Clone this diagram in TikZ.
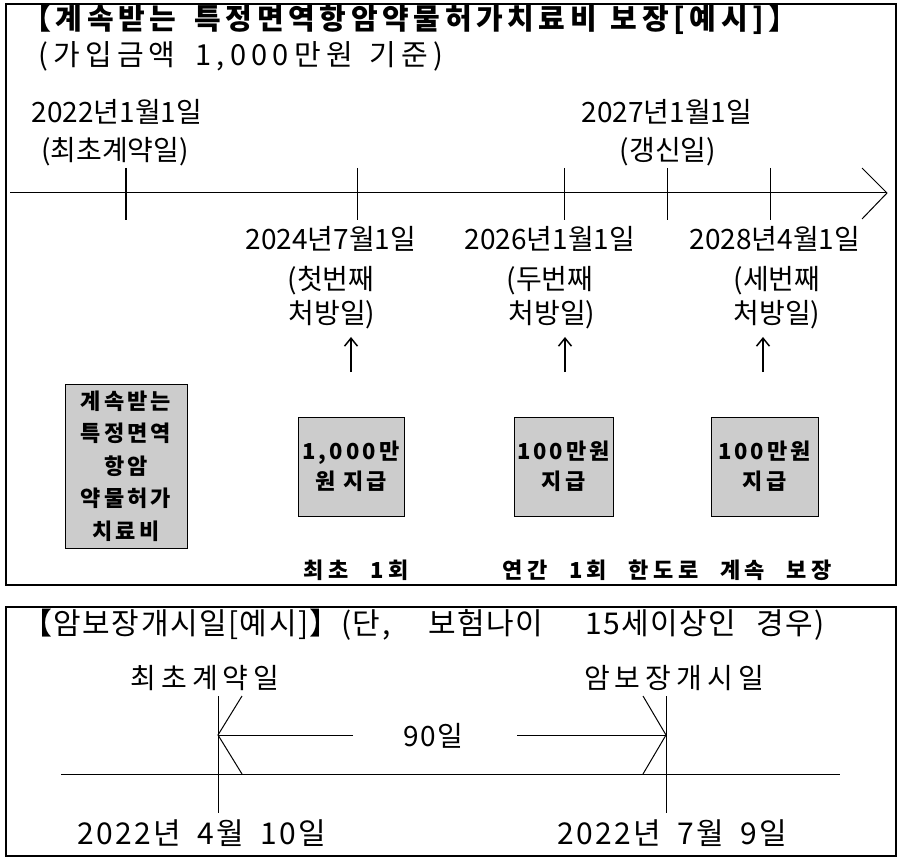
\documentclass[tikz,border=0pt]{standalone}
\usepackage{fontspec}
\setmainfont{Noto Sans CJK KR}
\newfontfamily\fTitle[LetterSpace=16]{Noto Sans CJK KR}
\newfontfamily\fSub[LetterSpace=18]{Noto Sans CJK KR}
\newfontfamily\fTwo[LetterSpace=5]{Noto Sans CJK KR}
\newfontfamily\fWide[LetterSpace=18]{Noto Sans CJK KR}
\newfontfamily\fNine[LetterSpace=5]{Noto Sans CJK KR}
\newfontfamily\fDate[LetterSpace=8,WordSpace=1.8]{Noto Sans CJK KR}
\newfontfamily\fBox[LetterSpace=14]{Noto Sans CJK KR}
\newfontfamily\fBtext[LetterSpace=20,WordSpace=2.3]{Noto Sans CJK KR}
\usetikzlibrary{arrows.meta}
\definecolor{boxgray}{HTML}{CCCCCC}
\tikzset{
  frame/.style={draw, line width=1.8pt},
  tl/.style={line width=1pt},
  tick/.style={line width=1pt},
  boldtick/.style={line width=2pt},
  lbl/.style={inner sep=0pt, font=\fontsize{28}{32}\selectfont},
  widelbl/.style={inner sep=0pt, font=\fWide\fontsize{28}{32}\selectfont},
  ninelbl/.style={inner sep=0pt, font=\fNine\fontsize{28}{32}\selectfont},
  datelbl/.style={inner sep=0pt, font=\fDate\fontsize{30}{34}\selectfont},
  titletext/.style={inner sep=0pt, anchor=west, font=\fTitle\bfseries\fontsize{29}{32}\selectfont},
  subtext/.style={inner sep=0pt, anchor=west, font=\fSub\fontsize{29}{32}\selectfont},
  title2text/.style={inner sep=0pt, anchor=west, font=\fTwo\fontsize{30}{34}\selectfont},
  btext/.style={inner sep=0pt, font=\fBtext\bfseries\fontsize{22}{26}\selectfont},
  paybox/.style={draw, fill=boxgray, line width=1pt, inner sep=0pt, align=center,
    font=\fBox\bfseries\fontsize{22}{30}\selectfont},
  uparrow/.style={line width=1.5pt, -{Straight Barb[length=8pt,width=13pt]}},
}
\begin{document}
\begin{tikzpicture}[x=1pt,y=-1pt]
\useasboundingbox (0,0) rectangle (899,858);
% frames
\draw[frame] (6,4) rectangle (896,585);
\draw[frame] (6,607) rectangle (896,856);
% ---------- top panel ----------
\node[titletext] (title) at (22,20) {【계속받는\hspace{18pt}특정면역항암약물허가치료비\hspace{14pt}보장[예시]】};
\node[subtext] (sub) at (38,56) {(가입금액\hspace{20pt}1,000만원\hspace{17pt}기준)};
% timeline
\coordinate (tlS) at (10,193);
\coordinate (tlE) at (887,193);
\draw[tl] (tlS) -- (tlE);
\draw[tl] (862,168) -- (tlE) -- (862,219);
\draw[boldtick] (126,168) -- (126,220);
\draw[tick] (357,168) -- (357,220);
\draw[tick] (564,168) -- (564,220);
\draw[tick] (667,168) -- (667,220);
\draw[tick] (770,168) -- (770,220);
% labels above
\node[lbl] (d0a) at (117,112) {2022년1월1일};
\node[lbl] (d0b) at (115,152) {(최초계약일)};
\node[lbl] (drA) at (667,112) {2027년1월1일};
\node[lbl] (drB) at (668,152) {(갱신일)};
% labels below
\node[lbl] (d1a) at (331,239) {2024년7월1일};
\node[lbl] (d1b) at (331,281) {(첫번째};
\node[lbl] (d1c) at (332,315) {처방일)};
\node[lbl] (d2a) at (550,239) {2026년1월1일};
\node[lbl] (d2b) at (550,281) {(두번째};
\node[lbl] (d2c) at (552,315) {처방일)};
\node[lbl] (d3a) at (775,239) {2028년4월1일};
\node[lbl] (d3b) at (777,281) {(세번째};
\node[lbl] (d3c) at (777,315) {처방일)};
% arrows
\coordinate (a1s) at (351,372); \coordinate (a1e) at (351,337);
\coordinate (a2s) at (565,372); \coordinate (a2e) at (565,337);
\coordinate (a3s) at (763,372); \coordinate (a3e) at (763,337);
\draw[uparrow] (a1s) -- (a1e);
\draw[uparrow] (a2s) -- (a2e);
\draw[uparrow] (a3s) -- (a3e);
% boxes
\node[paybox, minimum width=122pt, minimum height=164pt,
  font=\fBox\bfseries\fontsize{22}{32.5}\selectfont] (b0) at (126,466) {계속받는\\특정면역\\항암\\약물허가\\치료비};
\node[paybox, minimum width=106pt, minimum height=99pt] (b1) at (351,466.5) {1,000만\\원 지급};
\node[paybox, minimum width=99pt, minimum height=99pt] (b2) at (563.5,466.5) {100만원\\지급};
\node[paybox, minimum width=107pt, minimum height=99pt] (b3) at (764.5,466.5) {100만원\\지급};
\node[btext] (n1) at (356,570) {최초 1회};
\node[btext] (n2) at (667,570) {연간 1회 한도로 계속 보장};
% ---------- bottom panel ----------
\node[title2text] (title2) at (22,625) {【암보장개시일[예시]】(단,\hspace{38pt}보험나이\hspace{42pt}15세이상인\hspace{20pt}경우)};
\node[widelbl] (s1) at (205,678) {최초계약일};
\node[widelbl] (s2) at (674,678) {암보장개시일};
\coordinate (bS) at (61,774); \coordinate (bE) at (840,774);
\draw[tl] (bS) -- (bE);
\coordinate (v1t) at (218,696); \coordinate (v1b) at (218,813);
\coordinate (v2t) at (666,696); \coordinate (v2b) at (666,813);
\draw[tl] (v1t) -- (v1b);
\draw[tl] (v2t) -- (v2b);
\coordinate (L) at (218,735); \coordinate (R) at (666,735);
\draw[tl] (353,735) -- (L);
\draw[tl] (242,696) -- (L) -- (242,774);
\draw[tl] (517,735) -- (R);
\draw[tl] (643,696) -- (R) -- (643,774);
\node[ninelbl] (dd) at (433,736) {90일};
\node[datelbl] (e1) at (202,833) {2022년 4월 10일};
\node[datelbl] (e2) at (672,833) {2022년 7월 9일};
\end{tikzpicture}
\end{document}
